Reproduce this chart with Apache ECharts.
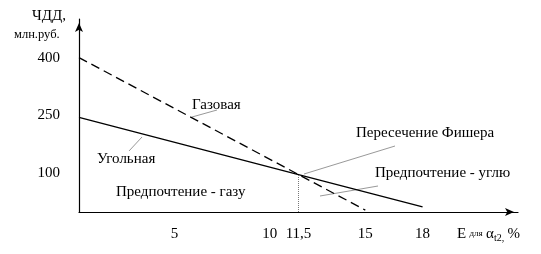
<!DOCTYPE html>
<html><head><meta charset="utf-8">
<script src="https://cdn.jsdelivr.net/npm/echarts@6/dist/echarts.min.js"></script>
<style>html,body{margin:0;padding:0;background:#fff}#c{width:541px;height:254px}</style>
</head><body><div id="c"></div>
<script>
// Data
const xTicks = [5, 10, 11.5, 15, 18];
const yTicks = [100, 250, 400];
const gasX = [0, 11.5, 15];
const gasY = [400, 97, 5];
const coalX = [0, 11.5, 18];
const coalY = [245, 97, 13];
const fisherX = 11.5;
const fisherY = 97;

const F = '"Liberation Serif", "Times New Roman", serif';
const chart = echarts.init(document.getElementById('c'), null, {renderer: 'canvas'});
const pairs = (xs, ys) => xs.map((x, i) => [x, ys[i]]);

chart.setOption({
  animation: false,
  backgroundColor: '#fff',
  grid: {left: 79, top: 19, width: 439, height: 193},
  xAxis: {
    type: 'value', min: 0, max: 23,
    splitLine: {show: false},
    axisLine: {show: true, lineStyle: {color: '#000', width: 1.2}, symbol: ['none', 'arrow'], symbolSize: [6, 9], symbolOffset: [0, -4]},
    axisTick: {show: false},
    axisLabel: {customValues: xTicks, margin: 15, color: '#000', fontFamily: F, fontSize: 15,
      formatter: v => String(v).replace('.', ',')}
  },
  yAxis: {
    type: 'value', min: 0, max: 500,
    splitLine: {show: false},
    axisLine: {show: true, lineStyle: {color: '#000', width: 1.2}, symbol: ['none', 'arrow'], symbolSize: [6, 9], symbolOffset: [0, -4]},
    axisTick: {show: false},
    axisLabel: {customValues: yTicks, margin: 19, color: '#000', fontFamily: F, fontSize: 15}
  },
  series: [
    {type: 'line', name: 'Газовая', data: pairs(gasX, gasY), symbol: 'none',
      lineStyle: {color: '#000', width: 1.3, type: [9, 5]}},
    {type: 'line', name: 'Угольная', data: pairs(coalX, coalY), symbol: 'none',
      lineStyle: {color: '#000', width: 1.3},
      markLine: {silent: true, symbol: 'none', label: {show: false},
        lineStyle: {color: '#777', width: 1, type: [1, 1]},
        data: [[{coord: [fisherX, 0]}, {coord: [fisherX, fisherY]}]]}}
  ],
  graphic: [
    {type: 'text', x: 32, y: 16, style: {text: 'ЧДД,', font: '15px ' + F, fill: '#000', verticalAlign: 'middle'}},
    {type: 'text', x: 14, y: 35, style: {text: 'млн.руб.', font: '12.5px ' + F, fill: '#000', verticalAlign: 'middle'}},
    {type: 'text', x: 192, y: 105, style: {text: 'Газовая', font: '15px ' + F, fill: '#000', verticalAlign: 'middle'}},
    {type: 'text', x: 97, y: 159, style: {text: 'Угольная', font: '15px ' + F, fill: '#000', verticalAlign: 'middle'}},
    {type: 'text', x: 116, y: 192, style: {text: 'Предпочтение - газу', font: '15px ' + F, fill: '#000', verticalAlign: 'middle'}},
    {type: 'text', x: 356, y: 133, style: {text: 'Пересечение Фишера', font: '15px ' + F, fill: '#000', verticalAlign: 'middle'}},
    {type: 'text', x: 375, y: 173, style: {text: 'Предпочтение - углю', font: '15px ' + F, fill: '#000', verticalAlign: 'middle'}},
    {type: 'line', shape: {x1: 192, y1: 117, x2: 217, y2: 110}, style: {stroke: '#999', lineWidth: 1}},
    {type: 'line', shape: {x1: 129, y1: 151, x2: 142, y2: 137}, style: {stroke: '#999', lineWidth: 1}},
    {type: 'line', shape: {x1: 304, y1: 174, x2: 395, y2: 146}, style: {stroke: '#999', lineWidth: 1}},
    {type: 'line', shape: {x1: 320, y1: 196, x2: 378, y2: 186}, style: {stroke: '#999', lineWidth: 1}},
    {type: 'text', x: 457, y: 234, style: {
      text: '{a|E} {s|для} {a|α}{t|t2,} {a|%}', fill: '#000', verticalAlign: 'middle',
      rich: {
        a: {font: '15px ' + F, fill: '#000'},
        s: {font: '9px ' + F, fill: '#000'},
        t: {font: '10px ' + F, fill: '#000', padding: [8, 0, 0, 0]}
      }}}
  ]
});
</script></body></html>
